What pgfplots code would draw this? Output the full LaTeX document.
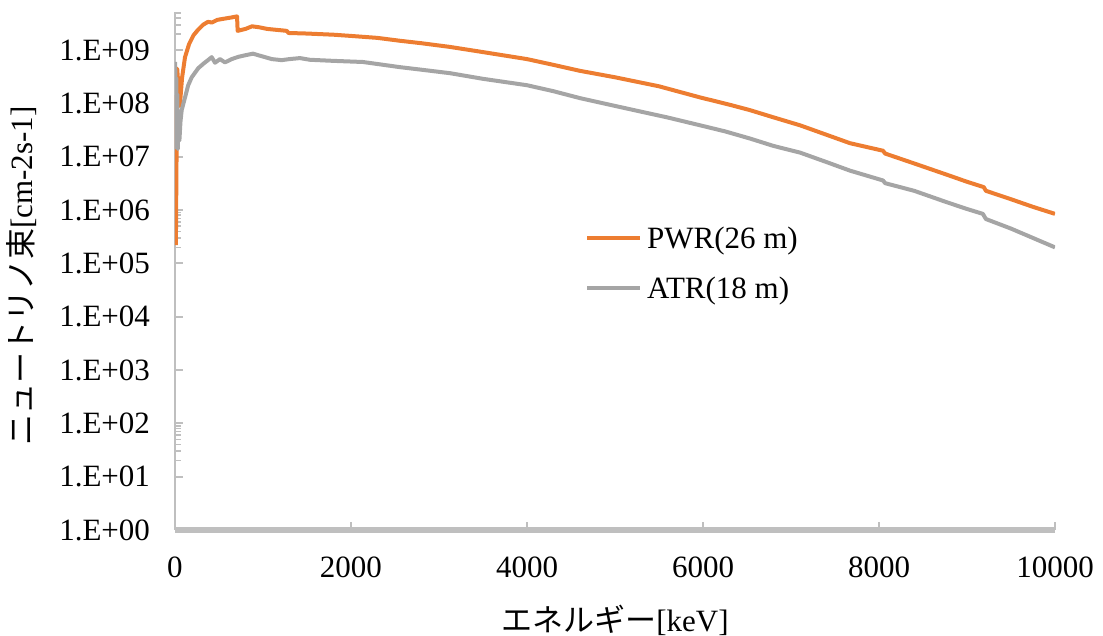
\documentclass[border=0pt]{standalone}
\usepackage{fontspec}
\setmainfont{Liberation Serif}
\newfontfamily\cjk{Noto Sans CJK JP}
\usepackage{pgfplots}
\usepackage{pgfplotstable}
\pgfplotsset{compat=1.18}

\definecolor{pwrorange}{HTML}{ED7D31}
\definecolor{atrgray}{HTML}{A5A5A5}
\definecolor{axisgray}{HTML}{BFBFBF}

% Neutrino flux spectra, energy [keV] vs flux [cm^-2 s^-1]
\pgfplotstableread{
E flux
10 2.2e5
25 4.5e8
55 9.0e7
80 3.0e8
114 7.4e8
160 1.3e9
210 1.9e9
261 2.4e9
320 3.0e9
375 3.4e9
420 3.3e9
480 3.7e9
560 3.9e9
640 4.1e9
705 4.3e9
712 2.3e9
800 2.5e9
875 2.8e9
950 2.7e9
1050 2.5e9
1216 2.35e9
1270 2.3e9
1290 2.1e9
1500 2.05e9
1800 1.95e9
2000 1.85e9
2300 1.7e9
2557 1.5e9
2800 1.35e9
3125 1.15e9
3500 9.2e8
4000 6.8e8
4300 5.3e8
4600 4.1e8
5000 3.1e8
5500 2.1e8
5966 1.3e8
6300 9.5e7
6534 7.5e7
6800 5.5e7
7102 3.9e7
7400 2.6e7
7670 1.8e7
8045 1.3e7
8070 1.15e7
8400 7.5e6
8773 4.6e6
9000 3.4e6
9190 2.7e6
9215 2.3e6
9500 1.6e6
9750 1.15e6
10000 8.5e5
}\pwr

\pgfplotstableread{
E flux
1 6.0e8
6 2.5e8
10 1.5e7
15 3.0e8
20 2.0e7
26 1.5e8
32 1.4e7
40 6.0e7
50 2.0e7
62 4.5e7
76 7.5e7
114 1.3e8
150 2.2e8
190 3.1e8
265 4.6e8
330 5.7e8
375 6.5e8
417 7.4e8
455 5.8e8
511 6.8e8
568 5.9e8
644 6.8e8
720 7.5e8
795 8.0e8
886 8.6e8
950 8.0e8
1023 7.4e8
1100 6.8e8
1212 6.5e8
1300 6.8e8
1420 7.1e8
1534 6.6e8
1800 6.3e8
2136 6.0e8
2557 4.8e8
2800 4.3e8
3125 3.7e8
3500 2.9e8
4000 2.2e8
4300 1.7e8
4602 1.26e8
5000 9.0e7
5300 7.0e7
5590 5.5e7
5966 3.9e7
6250 3.0e7
6534 2.2e7
6800 1.6e7
7102 1.2e7
7400 8.0e6
7670 5.5e6
8045 3.6e6
8070 3.2e6
8400 2.3e6
8773 1.4e6
9000 1.05e6
9180 8.5e5
9215 6.8e5
9500 4.5e5
9750 3.0e5
10000 2.0e5
}\atr

\begin{document}
\begin{tikzpicture}
\useasboundingbox (-87.5pt,-53pt) rectangle (464pt,265pt);
\begin{axis}[
  scale only axis,
  width=440pt, height=259pt,
  ymode=log, log basis y=10,
  xmin=0, xmax=10000,
  ymin=1, ymax=5.2e9,
  axis lines=left,
  x axis line style={-, draw=axisgray, line width=3.3pt},
  y axis line style={-, draw=axisgray, line width=1.2pt},
  tick align=inside,
  major tick length=4pt,
  tick style={draw=axisgray, line width=1pt},
  xtick={0,2000,4000,6000,8000,10000},
  scaled x ticks=false,
  ytick={1,1e1,1e2,1e3,1e4,1e5,1e6,1e7,1e8,1e9},
  yticklabels={1.E+00,1.E+01,1.E+02,1.E+03,1.E+04,1.E+05,1.E+06,1.E+07,1.E+08,1.E+09},
  minor ytick={},
  extra y ticks={20,30,40,50,60,70,80,90,2e5,3e5,4e5,5e5,6e5,7e5,8e5,9e5,2e9,3e9,4e9,5e9},
  extra y tick labels={},
  extra tick style={major tick length=3pt, tick style={draw=axisgray, line width=0.8pt}},
  /pgf/number format/assume math mode=true,
  /pgf/number format/1000 sep={},
  ticklabel style={font=\fontsize{15.5}{18}\selectfont, text=black},
  xticklabel style={yshift=-10pt},
  yticklabel style={xshift=-9pt},
  xlabel={{\cjk エネルギー}[keV]},
  ylabel={{\cjk ニュートリノ束}[cm-2s-1]},
  label style={font=\fontsize{15.5}{18}\selectfont},
  xlabel style={at={(axis description cs:0.5,0)}, anchor=center, yshift=-45pt},
  ylabel style={at={(axis description cs:0,0.49)}, anchor=center, yshift=76.5pt},
  legend style={at={(axis description cs:0.466,0.51)}, anchor=west,
    draw=none, fill=none, inner sep=0pt, outer sep=0pt,
    row sep=10.5pt, column sep=2.5pt,
    font=\fontsize{15.5}{18}\selectfont,
    nodes={inner sep=0pt, text height=11pt, text depth=3.5pt}},
  legend cell align=left,
  legend image code/.code={\draw[#1] (0pt,0.14em) -- (26.5pt,0.14em);},
  every axis plot/.append style={line width=2pt, line join=round, mark=none},
]
\addplot[pwrorange] table[x=E, y=flux] {\pwr};
\addlegendentry{PWR(26 m)}
\addplot[atrgray] table[x=E, y=flux] {\atr};
\addlegendentry{ATR(18 m)}
\end{axis}
\end{tikzpicture}
\end{document}
